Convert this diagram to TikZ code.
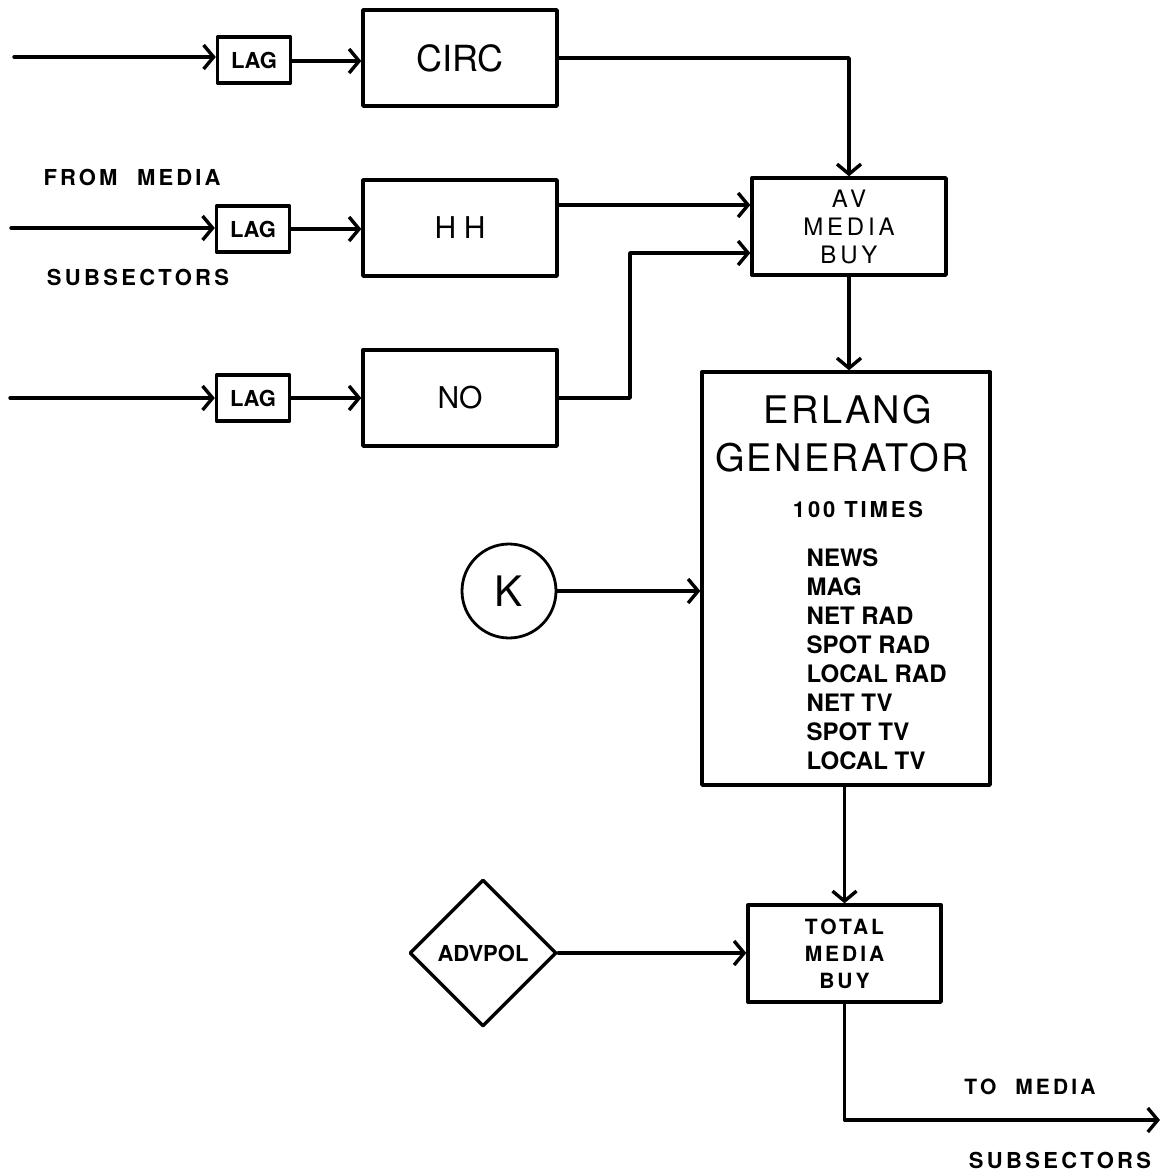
\documentclass[tikz,border=0pt]{standalone}
\usepackage{fontspec}
\setmainfont{TeX Gyre Heros}
\usetikzlibrary{arrows.meta,shapes.geometric}
\newcommand{\hf}[3]{\fontsize{#1}{#2}\selectfont\bfseries\addfontfeatures{LetterSpace=#3}}
\newcommand{\hr}[3]{\fontsize{#1}{#2}\selectfont\addfontfeatures{LetterSpace=#3}}
\begin{document}
\begin{tikzpicture}[x=1pt,y=-1pt,line width=3.4pt,line join=round,line cap=round,
  box/.style={draw,rectangle,inner sep=0pt,align=center},
  lagbox/.style={box,minimum width=73pt,minimum height=46pt,font=\hf{22}{26}{0}},
  bigbox/.style={box,minimum width=194pt,minimum height=96pt},
  lbl/.style={inner sep=0pt,align=center},
  arr/.style={-{Straight Barb[length=10pt,width=24pt,line width=3.4pt]}}]
\useasboundingbox (0,0) rectangle (1165,1176);

% input row 1
\coordinate (in1) at (14,57);
\node[lagbox] (lag1) at (254,60) {LAG};
\node[bigbox,font=\hr{36}{38}{0}] (circ) at (460,58) {CIRC};
% input row 2
\coordinate (in2) at (11,228);
\node[lagbox] (lag2) at (253,229) {LAG};
\node[bigbox,font=\hr{30}{32}{25}] (hh) at (460,228) {HH};
% input row 3
\coordinate (in3) at (10,398);
\node[lagbox] (lag3) at (253,398) {LAG};
\node[bigbox,font=\hr{30}{32}{0}] (no) at (460,398) {NO};

\node[lbl,font=\hf{22}{25}{14}] (from) at (132,177) {FROM\hspace{0.9em}MEDIA};
\node[lbl,font=\hf{22}{25}{15}] (subs1) at (138,277) {SUBSECTORS};

% AV media buy
\node[box,minimum width=194pt,minimum height=97pt,font=\hr{24}{28}{16}] (av) at (849,226.5) {AV\\MEDIA\\BUY};

% Erlang generator
\node[box,minimum width=288pt,minimum height=413pt] (erl) at (846,578.5) {};
\node[lbl,font=\hr{38}{40}{6}] (erlang) at (848,410) {ERLANG};
\node[lbl,font=\hr{38}{40}{6}] (gen) at (842,458) {GENERATOR};
\node[lbl,font=\hf{22}{25}{13}] (times) at (858,509) {100 TIMES};
\node[lbl,anchor=north west,align=left,font=\hf{24}{29}{0}] (list) at (805,547)
  {NEWS\\MAG\\NET RAD\\SPOT RAD\\LOCAL RAD\\NET TV\\SPOT TV\\LOCAL TV};

% K
\node[draw,circle,minimum size=94pt,inner sep=0pt,line width=2.8pt,font=\fontsize{42}{44}\selectfont] (k) at (509,591) {K};

% total media buy
\node[box,minimum width=193pt,minimum height=97pt,font=\hf{21}{27}{14}] (tot) at (844.5,953.5) {TOTAL\\MEDIA\\BUY};

% ADVPOL
\node[draw,diamond,minimum width=147pt,minimum height=147pt,inner sep=0pt,font=\hf{22}{25}{0}] (adv) at (483,953) {ADVPOL};

\coordinate (out) at (1160,1120);
\node[lbl,font=\hf{21}{24}{15}] (tomedia) at (1030,1087) {TO\hspace{0.9em}MEDIA};
\node[lbl,font=\hf{22}{25}{15}] (subs2) at (1060,1160) {SUBSECTORS};

% connectors
\draw[arr] (in1) -- (in1 -| lag1.west);
\draw[arr] (lag1.east |- 0,61) -- (circ.west |- 0,61);
\draw[arr] (circ.east) -| (av.north);
\draw[arr] (in2) -- (in2 -| lag2.west);
\draw[arr] (lag2.east) -- (hh.west |- lag2.east);
\draw[arr] (hh.east |- 0,205) -- (av.west |- 0,205);
\draw[arr] (in3) -- (in3 -| lag3.west);
\draw[arr] (lag3.east) -- (no.west |- lag3.east);
\draw[arr] (no.east) -- (630,398) -- (630,253) -- (av.west |- 0,253);
\draw[arr] (av.south) -- (erl.north -| av.south);
\draw[arr] (k.east) -- (erl.west |- k.east);
\draw[arr] (erl.south -| tot.north) -- (tot.north);
\draw[arr] (adv.east) -- (tot.west |- adv.east);
\draw[arr] (tot.south) -- (tot.south |- out) -- (out);
\end{tikzpicture}
\end{document}
